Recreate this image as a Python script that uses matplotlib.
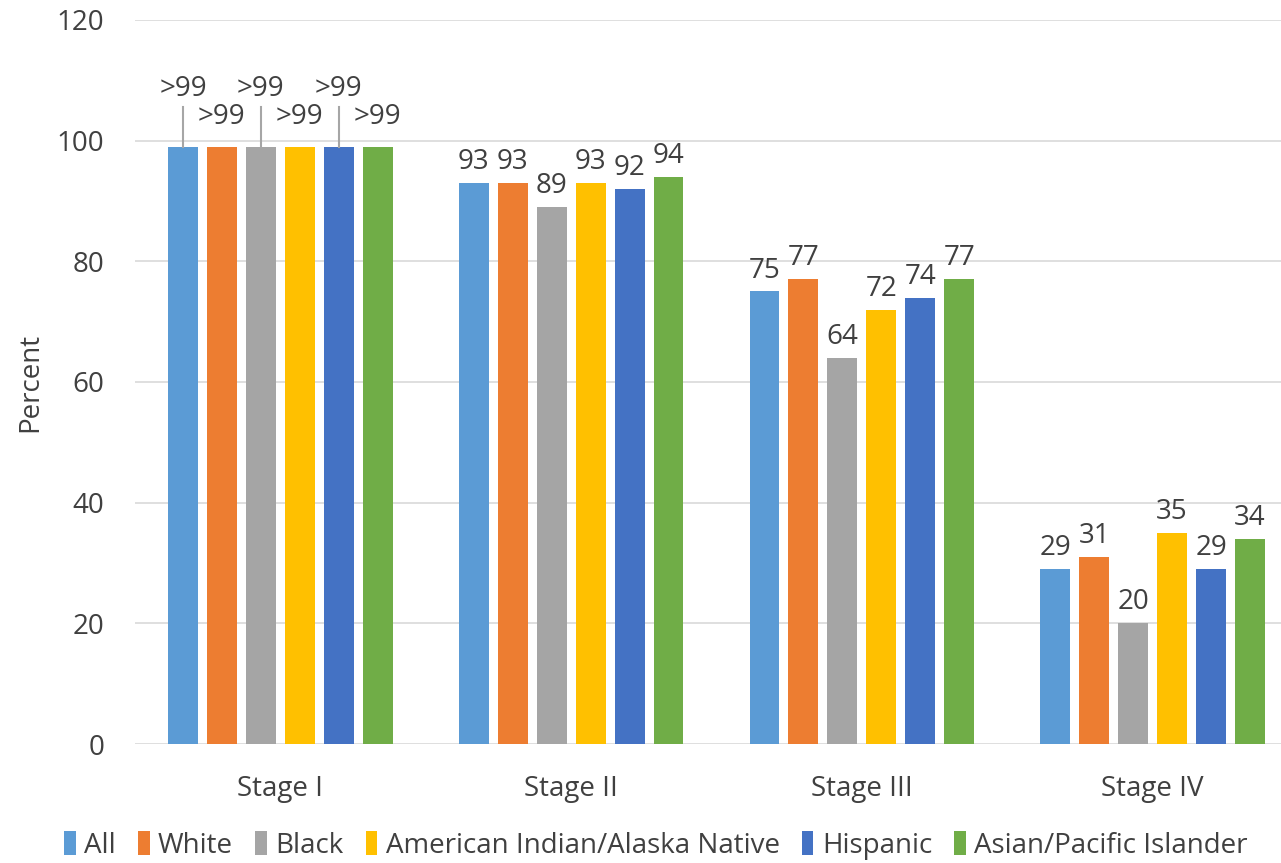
import matplotlib
matplotlib.use("Agg")
import matplotlib.pyplot as plt
import numpy as np

plt.rcParams["font.family"] = ["Open Sans", "DejaVu Sans"]

STAGES = ["Stage I", "Stage II", "Stage III", "Stage IV"]
GROUPS = ["All", "White", "Black", "American Indian/Alaska Native",
          "Hispanic", "Asian/Pacific Islander"]
COLORS = ["#5B9BD5", "#ED7D31", "#A5A5A5", "#FFC000", "#4472C4", "#70AD47"]

# values per group, one per stage (Stage I shown as ">99", drawn at 99)
VALUES = [
    [99, 93, 75, 29],
    [99, 93, 77, 31],
    [99, 89, 64, 20],
    [99, 93, 72, 35],
    [99, 92, 74, 29],
    [99, 94, 77, 34],
]
LABELS = [
    [">99", "93", "75", "29"],
    [">99", "93", "77", "31"],
    [">99", "89", "64", "20"],
    [">99", "93", "72", "35"],
    [">99", "92", "74", "29"],
    [">99", "94", "77", "34"],
]

TEXT = "#404040"
FS = 20

fig = plt.figure(figsize=(12.81, 8.63), dpi=100)
ax = fig.add_axes([135 / 1281, 119 / 863, 1163 / 1281, 724 / 863])

x = np.arange(len(STAGES))
step = 0.134
width = 0.103
for i, (grp, col) in enumerate(zip(GROUPS, COLORS)):
    xs = x + (i - 2.5) * step
    ax.bar(xs, VALUES[i], width=width, color=col, label=grp, zorder=3)
    for j, (xx, v) in enumerate(zip(xs, VALUES[i])):
        if j == 0:
            # Stage I labels staggered with leader lines
            if i % 2 == 0:
                ax.text(xx, 108.6, LABELS[i][j], ha="center", va="center",
                        fontsize=FS, color=TEXT)
                ax.plot([xx, xx], [99, 105.5], color="#A6A6A6", lw=1.5,
                        zorder=4)
            else:
                ax.text(xx, 104.0, LABELS[i][j], ha="center", va="center",
                        fontsize=FS, color=TEXT)
        else:
            ax.annotate(LABELS[i][j], (xx, v), xytext=(0, 5),
                        textcoords="offset points", ha="center",
                        va="bottom", fontsize=FS, color=TEXT)

ax.set_xlim(-0.5, 3.5)
ax.set_ylim(0, 120)
ax.set_yticks(range(0, 121, 20))
ax.set_xticks(x)
ax.set_xticklabels(STAGES)
ax.grid(axis="y", color="#D9D9D9", lw=1.2, zorder=0)
ax.set_axisbelow(True)
for s in ["top", "right", "left", "bottom"]:
    ax.spines[s].set_visible(False)
ax.tick_params(axis="y", length=0, pad=22, labelsize=FS, labelcolor=TEXT)
ax.tick_params(axis="x", length=0, pad=22, labelsize=FS, labelcolor=TEXT)
ax.set_ylabel("Percent", fontsize=FS, color=TEXT, labelpad=9)

fig.legend(loc="lower center", bbox_to_anchor=(0.512, -0.025), ncol=6,
           frameon=False, fontsize=FS, labelcolor=TEXT,
           handlelength=0.42, handleheight=1.0, handletextpad=0.3,
           columnspacing=0.8)

fig.savefig("out.png", dpi=100)
